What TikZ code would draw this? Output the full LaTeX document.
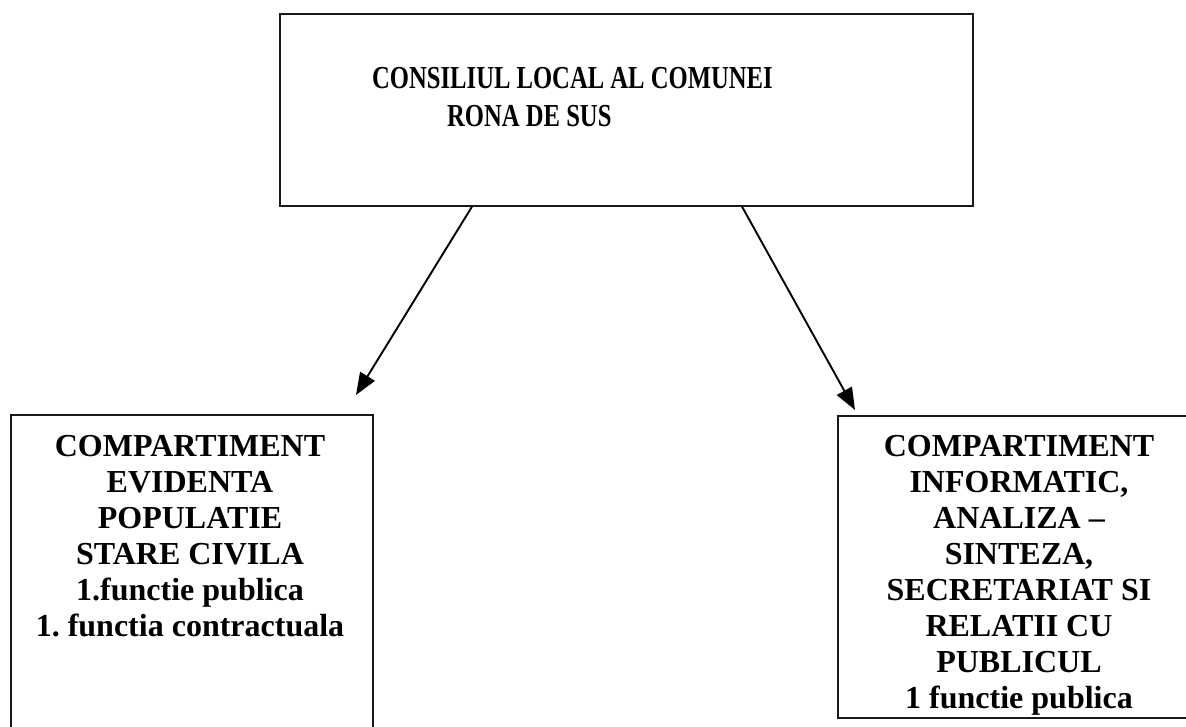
\documentclass[tikz,border=0pt]{standalone}
\usepackage{fontspec}
\setmainfont{Liberation Serif}
\usepackage{graphicx}
\usetikzlibrary{arrows.meta}
\frenchspacing
\tikzset{
  boxline/.style={draw=black!90, line width=1.6pt},
  arr/.style={line width=1.9pt, -{Triangle[length=22pt,width=17pt]}},
  btext/.style={inner sep=0pt, align=center, font=\fontsize{32}{36}\selectfont\bfseries},
}
\begin{document}
\begin{tikzpicture}[x=1pt,y=-1pt]
\useasboundingbox (0,0) rectangle (1186,727);
\clip (0,0) rectangle (1186,727);
% top box
\node[boxline, minimum width=693pt, minimum height=192pt, anchor=north west, inner sep=0] (top) at (279,13) {};
\node[inner sep=0pt, anchor=base west, align=left, font=\fontsize{32}{38}\selectfont\bfseries] (ttext) at (372,127)
  {\scalebox{0.77}[1]{CONSILIUL LOCAL AL COMUNEI}\\\hspace*{75pt}\scalebox{0.77}[1]{RONA DE SUS}};
% left box
\node[boxline, minimum width=362pt, minimum height=340pt, anchor=north west, inner sep=0] (lbox) at (10,414) {};
\node[btext, anchor=north] (ltext) at (190,435)
  {COMPARTIMENT\\EVIDENTA\\POPULATIE\\STARE CIVILA\\1.functie publica\\1. functia contractuala};
% right box
\node[boxline, minimum width=364pt, minimum height=302pt, anchor=north west, inner sep=0] (rbox) at (837,415) {};
\node[btext, anchor=north] (rtext) at (1019,435)
  {COMPARTIMENT\\INFORMATIC,\\ANALIZA --\\SINTEZA,\\SECRETARIAT SI\\RELATII CU\\PUBLICUL\\1 functie publica};
% arrows
\coordinate (ltip) at (356,395);
\coordinate (rtip) at (855,410);
\draw[arr] ([xshift=193pt]top.south west) -- (ltip);
\draw[arr] ([xshift=463pt]top.south west) -- (rtip);
\end{tikzpicture}
\end{document}
